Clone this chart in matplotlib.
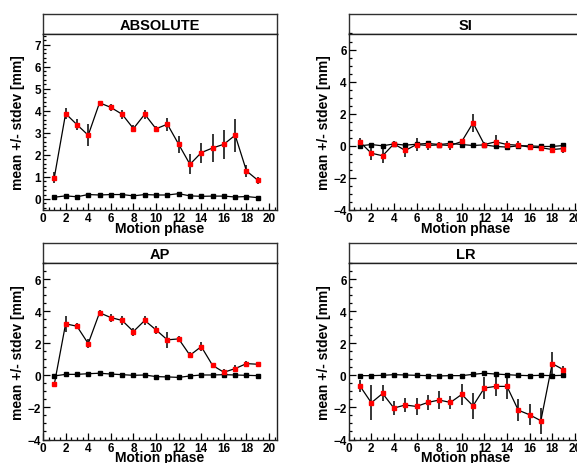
import matplotlib
matplotlib.use("Agg")
import matplotlib.pyplot as plt
from matplotlib.ticker import MultipleLocator

plt.rcParams['font.family'] = ['Liberation Sans', 'DejaVu Sans']
plt.rcParams['font.weight'] = 'bold'

phase = list(range(1, 20))

# ABSOLUTE
abs_mean = [0.97, 3.87, 3.37, 2.89, 4.36, 4.15, 3.84, 3.19, 3.84, 3.18,
            3.39, 2.48, 1.57, 2.10, 2.31, 2.48, 2.89, 1.27, 0.85]
abs_sd = [0.25, 0.25, 0.25, 0.5, 0.1, 0.15, 0.2, 0.15, 0.2, 0.15,
          0.3, 0.38, 0.45, 0.45, 0.65, 0.65, 0.75, 0.28, 0.15]
abs_ref = [0.08, 0.14, 0.10, 0.20, 0.18, 0.20, 0.20, 0.14, 0.20, 0.18,
           0.18, 0.24, 0.14, 0.12, 0.13, 0.13, 0.09, 0.11, 0.06]

# SI
si_mean = [0.23, -0.46, -0.62, 0.12, -0.29, 0.08, 0.02, 0.06, 0.02, 0.27,
           1.43, 0.08, 0.25, 0.08, 0.04, -0.08, -0.12, -0.23, -0.17]
si_sd = [0.25, 0.45, 0.45, 0.2, 0.4, 0.4, 0.25, 0.2, 0.3, 0.15,
         0.55, 0.15, 0.4, 0.25, 0.25, 0.15, 0.15, 0.1, 0.25]
si_ref = [0.0, 0.08, 0.0, 0.12, 0.04, 0.10, 0.15, 0.08, 0.15, 0.08,
          0.02, 0.06, -0.04, -0.08, 0.0, 0.0, -0.04, -0.04, 0.02]

# AP
ap_mean = [-0.56, 3.21, 3.06, 1.98, 3.90, 3.60, 3.42, 2.73, 3.42, 2.83,
           2.21, 2.27, 1.25, 1.79, 0.62, 0.19, 0.42, 0.73, 0.69]
ap_sd = [0.15, 0.5, 0.2, 0.3, 0.2, 0.25, 0.3, 0.25, 0.3, 0.25,
         0.5, 0.2, 0.2, 0.3, 0.15, 0.2, 0.2, 0.15, 0.15]
ap_ref = [-0.04, 0.06, 0.06, 0.10, 0.13, 0.08, 0.04, 0.0, 0.02, -0.08,
          -0.10, -0.13, -0.04, 0.02, 0.02, 0.04, 0.02, 0.0, -0.02]

# LR
lr_mean = [-0.67, -1.71, -1.13, -2.04, -1.85, -1.94, -1.69, -1.54, -1.69, -1.19,
           -1.90, -0.79, -0.69, -0.69, -2.17, -2.46, -2.83, 0.73, 0.35]
lr_sd = [0.35, 1.1, 0.5, 0.45, 0.45, 0.55, 0.45, 0.55, 0.4, 0.65,
         0.8, 0.7, 0.6, 0.8, 0.7, 0.65, 0.8, 0.75, 0.25]
lr_ref = [-0.02, -0.02, 0.0, 0.04, 0.02, 0.0, -0.02, -0.04, -0.02, -0.02,
          0.06, 0.13, 0.08, 0.04, 0.0, -0.02, 0.0, -0.02, 0.0]

W, H = 577, 464
fig = plt.figure(figsize=(W / 100, H / 100), dpi=100)


def panel(x0, ytop, title, mean, sd, ref, ylim, ymaj, ymin):
    # frame and title box given in pixels from the top left corner
    fw, fh, th = 234, 176.5, 20
    tb = fig.add_axes([x0 / W, 1 - (ytop + th) / H, fw / W, th / H])
    tb.set_xticks([])
    tb.set_yticks([])
    for s in tb.spines.values():
        s.set_linewidth(1.0)
        s.set_color('#303030')
    tb.text(0.5, 0.45, title, ha='center', va='center', fontsize=10.5,
            fontweight='bold', transform=tb.transAxes)

    ax = fig.add_axes([x0 / W, 1 - (ytop + th + fh) / H, fw / W, fh / H])
    ax.plot(phase, ref, color='black', lw=0.9, marker='s', ms=2.8, zorder=2)
    ax.errorbar(phase, mean, yerr=sd, color='black', lw=0.9, ecolor='black',
                elinewidth=1.1, capsize=0, marker='s', ms=3.3,
                mfc='red', mec='red', zorder=3)
    ax.set_xlim(0, 20.7)
    ax.set_ylim(*ylim)
    ax.xaxis.set_major_locator(MultipleLocator(2))
    ax.xaxis.set_minor_locator(MultipleLocator(0.5))
    ax.yaxis.set_major_locator(MultipleLocator(ymaj))
    ax.yaxis.set_minor_locator(MultipleLocator(ymin))
    ax.tick_params(which='both', direction='in', top=False, right=False,
                   labelsize=8.5, pad=1.5, width=0.9)
    ax.tick_params(which='major', length=5)
    ax.tick_params(which='minor', length=2.5)
    for lab in ax.get_xticklabels() + ax.get_yticklabels():
        lab.set_fontweight('bold')
    for s in ax.spines.values():
        s.set_linewidth(1.0)
        s.set_color('#202020')
    fig.text((x0 + fw / 2) / W, 1 - (ytop + th + fh + 17.5) / H, 'Motion phase',
             ha='center', va='center', fontsize=10, fontweight='bold')
    fig.text((x0 - 24.5) / W, 1 - (ytop + th + fh / 2) / H, 'mean +/- stdev [mm]',
             ha='center', va='center', rotation=90, fontsize=10, fontweight='bold')
    return ax


panel(43, 14.5, 'ABSOLUTE', abs_mean, abs_sd, abs_ref, (-0.5, 7.5), 1, 0.2)
panel(348.7, 14.5, 'SI', si_mean, si_sd, si_ref, (-4, 7), 2, 0.5)
panel(43, 244, 'AP', ap_mean, ap_sd, ap_ref, (-4, 7), 2, 0.5)
panel(348.7, 244, 'LR', lr_mean, lr_sd, lr_ref, (-4, 7), 2, 0.5)

fig.savefig('out.png', dpi=100)
